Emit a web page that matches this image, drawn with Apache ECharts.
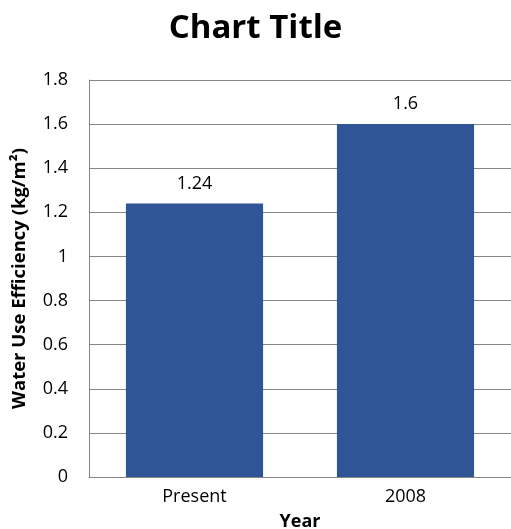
<!DOCTYPE html>
<html><head><meta charset="utf-8">
<script src="https://cdn.jsdelivr.net/npm/echarts@6/dist/echarts.min.js"></script>
<style>html,body{margin:0;padding:0;background:#fff}#c{width:511px;height:529px}</style>
</head><body><div id="c"></div>
<script>
const categories = ['Present', '2008'];
const values = [1.24, 1.6];
const chart = echarts.init(document.getElementById('c'), null, {renderer: 'canvas'});
const font = '"Open Sans", "Liberation Sans", sans-serif';
chart.setOption({
  animation: false,
  title: {text: 'Chart Title', left: 'center', top: 7,
    textStyle: {fontFamily: font, fontSize: 33, fontWeight: 'bold', color: '#000'}},
  grid: {left: 89, right: 0, top: 80, bottom: 52, containLabel: false, outerBoundsMode: 'none'},
  xAxis: {type: 'category', data: categories,
    name: 'Year', nameLocation: 'middle', nameGap: 36,
    nameTextStyle: {fontFamily: font, fontSize: 18, fontWeight: 'bold', color: '#000'},
    axisLine: {lineStyle: {color: '#868686', width: 1}},
    axisTick: {show: false},
    axisLabel: {fontFamily: font, fontSize: 18, color: '#000', margin: 11}},
  yAxis: {type: 'value', min: 0, max: 1.8, interval: 0.2,
    name: 'Water Use Efficiency (kg/m²)', nameLocation: 'middle', nameGap: 60,
    nameTextStyle: {fontFamily: font, fontSize: 18.5, fontWeight: 'bold', color: '#000'},
    axisLine: {show: true, lineStyle: {color: '#868686', width: 1}},
    axisTick: {show: false},
    splitLine: {lineStyle: {color: '#868686', width: 1}},
    axisLabel: {fontFamily: font, fontSize: 18, color: '#000', margin: 21,
      formatter: v => String(Math.round(v * 10) / 10)}},
  series: [{type: 'bar', data: values, barWidth: '65%',
    itemStyle: {color: '#2F5597'},
    label: {show: true, position: 'top', distance: 11, fontFamily: font, fontSize: 18, color: '#000'}}]
});
</script></body></html>
